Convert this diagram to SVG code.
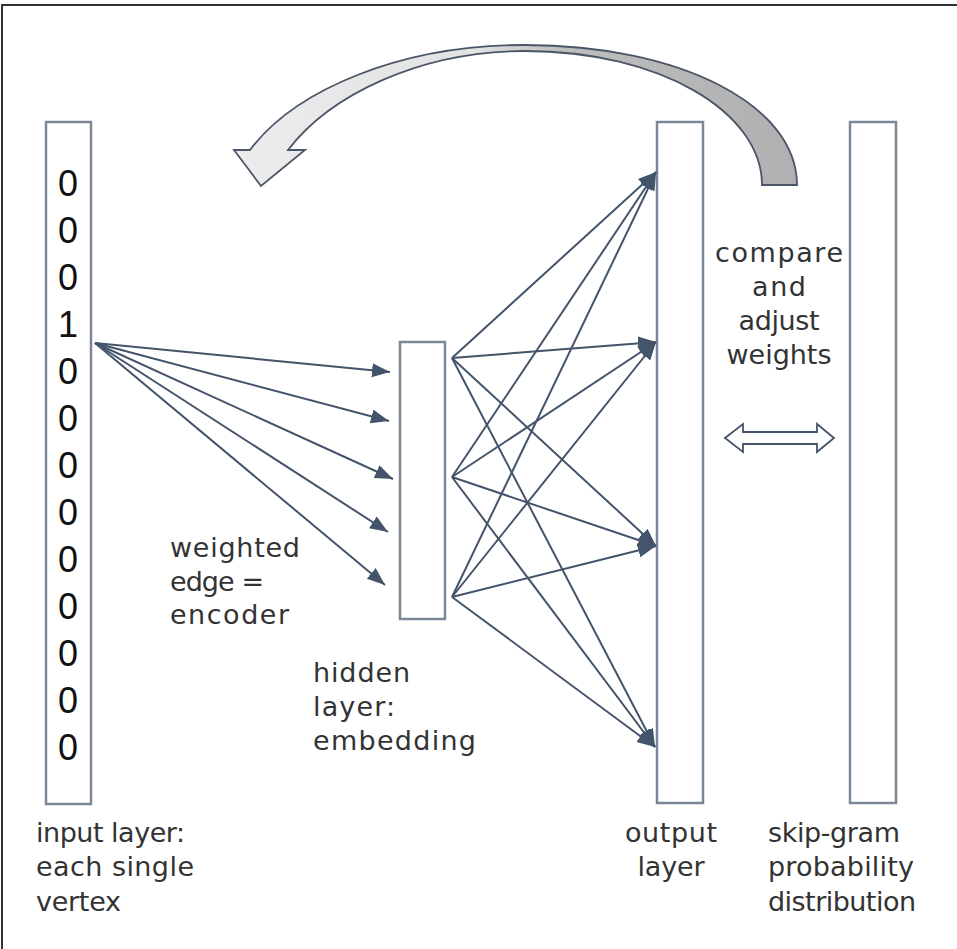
<svg xmlns="http://www.w3.org/2000/svg" width="957" height="949" viewBox="0 0 957 949">
  <style>
    .layer { fill: #ffffff; stroke: #7b8796; stroke-width: 2.5; }
    .digit { font-family: "Liberation Sans", Arial, sans-serif; font-size: 36px; fill: #111111; text-anchor: middle; }
    .label { font-family: "DejaVu Sans", "Liberation Sans", sans-serif; font-size: 27px; fill: #333333; }
    .mid { text-anchor: middle; }
    .edge { stroke: #44546a; stroke-width: 2; fill: none; marker-end: url(#tri); }
  </style>
  <defs>
    <marker id="tri" markerUnits="userSpaceOnUse" markerWidth="19" markerHeight="15" refX="18" refY="7" orient="auto">
      <path d="M0,0 L18,7 L0,14 Z" fill="#44546a"/>
    </marker>
    <linearGradient id="loopFill" gradientUnits="userSpaceOnUse" x1="240" y1="0" x2="800" y2="0">
      <stop offset="0" stop-color="#ececec"/>
      <stop offset="0.42" stop-color="#e2e2e2"/>
      <stop offset="0.58" stop-color="#bdbdbd"/>
      <stop offset="1" stop-color="#b0b0b0"/>
    </linearGradient>
  </defs>

  <rect width="957" height="949" fill="#ffffff"/>
  <!-- outer frame (top and left edges) -->
  <path d="M2,949 L2,5 L957,5" fill="none" stroke="#333333" stroke-width="2"/>

  <!-- feedback loop arrow -->
  <g id="feedback-arrow">
    <path d="M797,185 C797,105 680,45 525,45 C400,45 295,90 250,150 L234,150 L261,186 L305,150 L288,150 C330,95 420,51 525,51 C660,51 762,112 762,185 Z" fill="url(#loopFill)" stroke="#4a5568" stroke-width="1.8" stroke-linejoin="miter"/>
  </g>

  <g id="input-layer">
    <rect class="layer" x="46" y="122" width="45" height="682"/>
    <text class="digit" x="68" y="196">0</text>
    <text class="digit" x="68" y="243">0</text>
    <text class="digit" x="68" y="290">0</text>
    <text class="digit" x="68" y="337">1</text>
    <text class="digit" x="68" y="384">0</text>
    <text class="digit" x="68" y="431">0</text>
    <text class="digit" x="68" y="478">0</text>
    <text class="digit" x="68" y="525">0</text>
    <text class="digit" x="68" y="572">0</text>
    <text class="digit" x="68" y="619">0</text>
    <text class="digit" x="68" y="666">0</text>
    <text class="digit" x="68" y="713">0</text>
    <text class="digit" x="68" y="760">0</text>
  </g>

  <g id="hidden-layer">
    <rect class="layer" x="400" y="342" width="45" height="277"/>
  </g>

  <g id="output-layer">
    <rect class="layer" x="657" y="122" width="46" height="681"/>
  </g>

  <g id="skipgram-layer">
    <rect class="layer" x="850" y="122" width="46" height="681"/>
  </g>

  <g id="connectors">
    <!-- input vertex to hidden layer -->
    <line class="edge" x1="95" y1="343" x2="390" y2="372"/>
    <line class="edge" x1="95" y1="343" x2="389" y2="421"/>
    <line class="edge" x1="95" y1="343" x2="393" y2="479"/>
    <line class="edge" x1="95" y1="343" x2="388" y2="532"/>
    <line class="edge" x1="95" y1="343" x2="385" y2="585"/>
    <!-- hidden layer to output layer -->
    <line class="edge" x1="452" y1="358" x2="656" y2="172"/>
    <line class="edge" x1="452" y1="358" x2="656" y2="342"/>
    <line class="edge" x1="452" y1="358" x2="656" y2="546"/>
    <line class="edge" x1="452" y1="358" x2="655" y2="747"/>
    <line class="edge" x1="452" y1="477" x2="656" y2="172"/>
    <line class="edge" x1="452" y1="477" x2="656" y2="342"/>
    <line class="edge" x1="452" y1="477" x2="656" y2="546"/>
    <line class="edge" x1="452" y1="477" x2="655" y2="747"/>
    <line class="edge" x1="452" y1="597" x2="656" y2="172"/>
    <line class="edge" x1="452" y1="597" x2="656" y2="342"/>
    <line class="edge" x1="452" y1="597" x2="656" y2="546"/>
    <line class="edge" x1="452" y1="597" x2="655" y2="747"/>
  </g>

  <!-- compare double arrow -->
  <g id="compare-arrow">
    <path d="M725,438 L743,424 L743,432 L817,432 L817,424 L834,438 L817,452 L817,444 L743,444 L743,452 Z" fill="#ffffff" stroke="#44546a" stroke-width="1.8" stroke-linejoin="miter"/>
  </g>

  <g id="labels">
    <text class="label mid" x="779" y="262" textLength="128">compare</text>
    <text class="label mid" x="779" y="296" textLength="54">and</text>
    <text class="label mid" x="779" y="330" textLength="81">adjust</text>
    <text class="label mid" x="779" y="364" textLength="105">weights</text>

    <text class="label" x="170" y="557" textLength="130">weighted</text>
    <text class="label" x="170" y="591" textLength="94">edge =</text>
    <text class="label" x="170" y="624" textLength="119">encoder</text>

    <text class="label" x="313" y="682" textLength="97">hidden</text>
    <text class="label" x="313" y="716" textLength="82">layer:</text>
    <text class="label" x="313" y="750" textLength="163">embedding</text>

    <text class="label" x="36" y="842" textLength="149">input layer:</text>
    <text class="label" x="36" y="876" textLength="158">each single</text>
    <text class="label" x="36" y="911" textLength="85">vertex</text>

    <text class="label mid" x="671" y="842" textLength="92">output</text>
    <text class="label mid" x="671" y="876" textLength="67">layer</text>

    <text class="label" x="768" y="842" textLength="132">skip-gram</text>
    <text class="label" x="768" y="876" textLength="146">probability</text>
    <text class="label" x="768" y="911" textLength="148">distribution</text>
  </g>
</svg>
